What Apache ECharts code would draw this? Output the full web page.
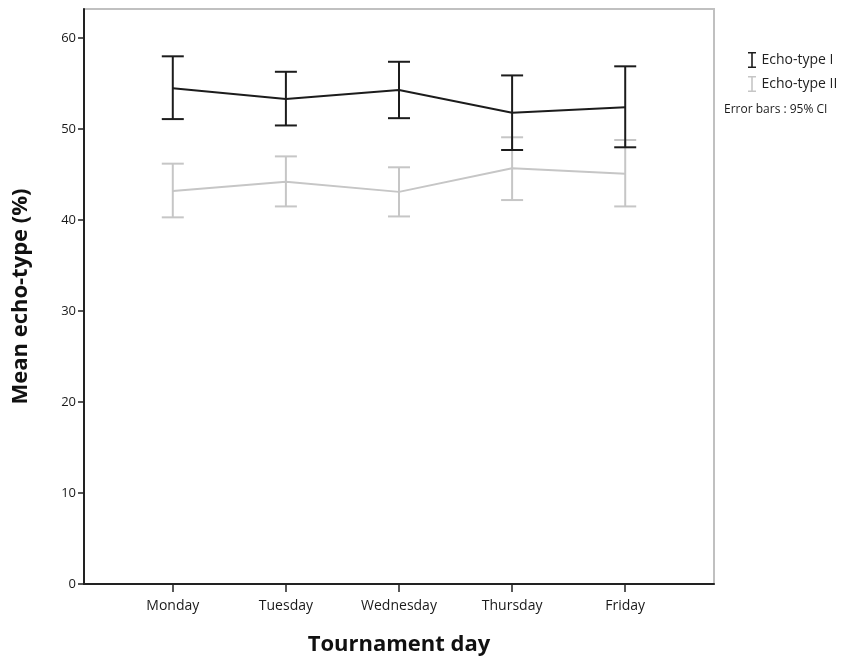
<!DOCTYPE html>
<html>
<head>
<meta charset="utf-8">
<script src="https://cdn.jsdelivr.net/npm/echarts@6/dist/echarts.min.js"></script>
<style>html,body{margin:0;padding:0;background:#fff}#c{width:866px;height:662px}</style>
</head>
<body>
<div id="c"></div>
<script>
var days = ['Monday', 'Tuesday', 'Wednesday', 'Thursday', 'Friday'];
var yTicks = [0, 10, 20, 30, 40, 50, 60];
var type1Mean = [54.5, 53.3, 54.3, 51.8, 52.4];
var type1Low  = [51.1, 50.4, 51.2, 47.7, 48.0];
var type1High = [58.0, 56.3, 57.4, 55.9, 56.9];
var type2Mean = [43.2, 44.2, 43.1, 45.7, 45.1];
var type2Low  = [40.3, 41.5, 40.4, 42.2, 41.5];
var type2High = [46.2, 47.0, 45.8, 49.1, 48.8];

var C1 = '#1c1c1c', C2 = '#c6c6c6';
var FONT = '"Open Sans", "Noto Sans", sans-serif';
var ibeam = 'path://M0,0 L10,0 L10,2 L6,2 L6,18 L10,18 L10,20 L0,20 L0,18 L4,18 L4,2 L0,2 Z';

function errData(lo, hi) {
  return days.map(function (d, i) { return [i, lo[i], hi[i]]; });
}
function errRender(color) {
  return function (params, api) {
    var x = api.value(0);
    var lo = api.coord([x, api.value(1)]);
    var hi = api.coord([x, api.value(2)]);
    var w = 11;
    var st = { stroke: color, lineWidth: 2 };
    return {
      type: 'group',
      children: [
        { type: 'line', shape: { x1: lo[0], y1: lo[1], x2: hi[0], y2: hi[1] }, style: st },
        { type: 'line', shape: { x1: hi[0] - w, y1: hi[1], x2: hi[0] + w, y2: hi[1] }, style: st },
        { type: 'line', shape: { x1: lo[0] - w, y1: lo[1], x2: lo[0] + w, y2: lo[1] }, style: st }
      ]
    };
  };
}

var chart = echarts.init(document.getElementById('c'));
chart.setOption({
  animation: false,
  textStyle: { fontFamily: FONT },
  grid: { left: 84, right: 152, top: 9, bottom: 78, show: true, borderColor: '#c0c0c0', borderWidth: 2 },
  legend: {
    orient: 'vertical', left: 743, top: 47, itemGap: 8,
    itemWidth: 9, itemHeight: 16,
    textStyle: { fontSize: 14, color: '#222', fontFamily: FONT },
    data: [
      { name: 'Echo-type I', icon: ibeam, itemStyle: { color: C1 } },
      { name: 'Echo-type II', icon: ibeam, itemStyle: { color: C2 } }
    ]
  },
  graphic: [{
    type: 'text', left: 724, top: 104,
    style: { text: 'Error bars : 95% CI', fontSize: 12, fill: '#1a1a1a', fontFamily: FONT }
  }],
  xAxis: {
    type: 'value', min: -0.785, max: 4.785,
    name: 'Tournament day', nameLocation: 'middle', nameGap: 50,
    nameTextStyle: { fontSize: 22, fontWeight: 'bold', color: '#111', fontFamily: FONT },
    splitLine: { show: false },
    axisLine: { show: true, onZero: false, lineStyle: { color: '#222', width: 2 } },
    axisTick: { show: true, length: 8, lineStyle: { color: '#222', width: 1.5 }, customValues: [0, 1, 2, 3, 4] },
    axisLabel: {
      customValues: [0, 1, 2, 3, 4], margin: 15, fontSize: 14, color: '#1a1a1a',
      formatter: function (v) { return days[Math.round(v)] || ''; }
    }
  },
  yAxis: {
    type: 'value', min: 0, max: 63.2, interval: 10,
    name: 'Mean echo-type (%)', nameLocation: 'middle', nameGap: 52,
    nameTextStyle: { fontSize: 22, fontWeight: 'bold', color: '#111', fontFamily: FONT },
    splitLine: { show: false },
    axisLine: { show: true, onZero: false, lineStyle: { color: '#222', width: 2 } },
    axisTick: { show: true, length: 6, lineStyle: { color: '#222', width: 1.5 }, customValues: yTicks },
    axisLabel: { customValues: yTicks, fontSize: 13, color: '#1a1a1a', margin: 8 }
  },
  series: [
    {
      name: 'Echo-type II', type: 'line', symbol: 'none', z: 2,
      lineStyle: { color: C2, width: 2 }, itemStyle: { color: C2 },
      data: type2Mean.map(function (v, i) { return [i, v]; })
    },
    {
      name: 'Echo-type II', type: 'custom', z: 2, itemStyle: { color: C2 },
      renderItem: errRender(C2), data: errData(type2Low, type2High)
    },
    {
      name: 'Echo-type I', type: 'line', symbol: 'none', z: 3,
      lineStyle: { color: C1, width: 2 }, itemStyle: { color: C1 },
      data: type1Mean.map(function (v, i) { return [i, v]; })
    },
    {
      name: 'Echo-type I', type: 'custom', z: 3, itemStyle: { color: C1 },
      renderItem: errRender(C1), data: errData(type1Low, type1High)
    }
  ]
});
</script>
</body>
</html>
